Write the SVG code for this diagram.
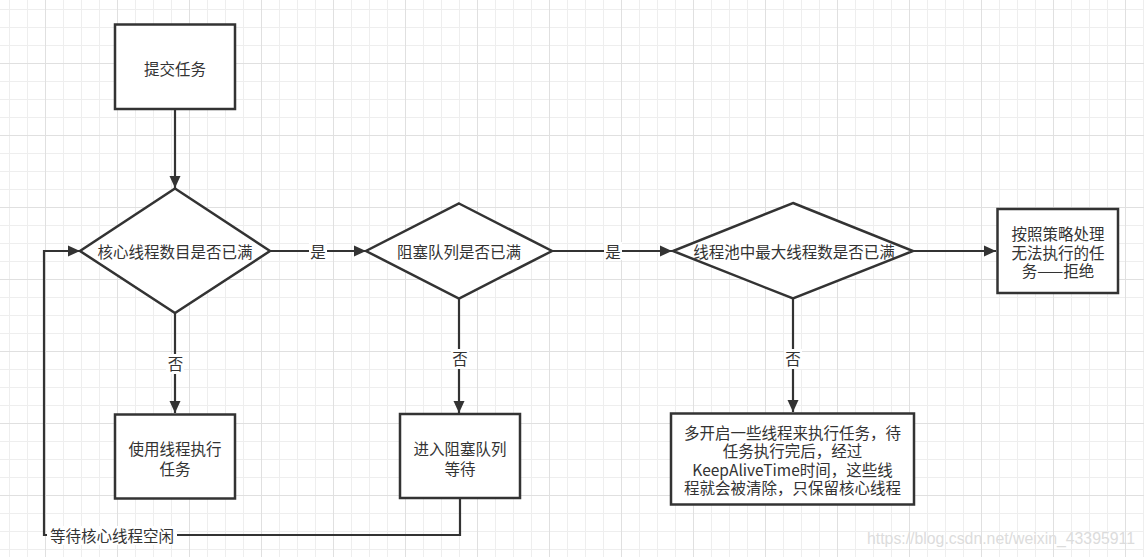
<svg xmlns="http://www.w3.org/2000/svg" width="1144" height="557" viewBox="0 0 1144 557">
<style>
.box{fill:#fff;stroke:#333;stroke-width:2.5}
.t{font-family:"Noto Sans CJK SC","Liberation Sans",sans-serif;font-size:15.5px;fill:#333;text-anchor:middle;dominant-baseline:central}
.e{fill:none;stroke:#333;stroke-width:2.2}
.lb{fill:#fff}
</style>
<defs>
<pattern id="grid" x="45" y="63" width="72" height="72" patternUnits="userSpaceOnUse">
<path d="M18.5,0V72M36.5,0V72M54.5,0V72M0,18.5H72M0,36.5H72M0,54.5H72" stroke="#eeeeee" stroke-width="1" fill="none"/>
<path d="M0.5,0V72M0,0.5H72" stroke="#e0e0e0" stroke-width="1" fill="none"/>
</pattern>
<marker id="ah" markerUnits="userSpaceOnUse" markerWidth="14" markerHeight="12" refX="12" refY="6" orient="auto">
<path d="M0,0.5 L12,6 L0,11.5 Z" fill="#333"/>
</marker>
</defs>
<rect width="1144" height="557" fill="#fff"/>
<rect width="1144" height="557" fill="url(#grid)"/>

<g id="connectors">
<path class="e" d="M175,109V188" marker-end="url(#ah)"/>
<path class="e" d="M270,251H366" marker-end="url(#ah)"/>
<rect class="lb" x="309" y="242" width="18" height="18"/>
<text class="t" x="318" y="251">是</text>
<path class="e" d="M552,251H672" marker-end="url(#ah)"/>
<rect class="lb" x="604" y="242" width="18" height="18"/>
<text class="t" x="613" y="251">是</text>
<path class="e" d="M913,251H996" marker-end="url(#ah)"/>
<path class="e" d="M175,313V413" marker-end="url(#ah)"/>
<rect class="lb" x="166" y="354" width="18" height="20"/>
<text class="t" x="175.5" y="363">否</text>
<path class="e" d="M459,299V413" marker-end="url(#ah)"/>
<rect class="lb" x="451" y="349" width="18" height="20"/>
<text class="t" x="460" y="358">否</text>
<path class="e" d="M793,299V412" marker-end="url(#ah)"/>
<rect class="lb" x="784" y="349" width="18" height="20"/>
<text class="t" x="793" y="358">否</text>
<path class="e" d="M460,498V535H44V251H80" marker-end="url(#ah)"/>
<rect class="lb" x="47" y="526" width="130" height="19"/>
<text class="t" x="112" y="535">等待核心线程空闲</text>
</g>

<g id="submit">
<rect class="box" x="115" y="24.5" width="120" height="84.5"/>
<text class="t" x="175" y="68">提交任务</text>
</g>
<g id="core-full">
<path class="box" d="M175,188.5L270,251L175,313L80,251Z"/>
<text class="t" x="175" y="251">核心线程数目是否已满</text>
</g>
<g id="queue-full">
<path class="box" d="M459,203.5L552,251L459,298.5L366,251Z"/>
<text class="t" x="459" y="251">阻塞队列是否已满</text>
</g>
<g id="max-full">
<path class="box" d="M793,203L913,251L793,298.5L673,251Z"/>
<text class="t" x="794" y="251">线程池中最大线程数是否已满</text>
</g>
<g id="reject">
<rect class="box" x="997.5" y="209" width="120.5" height="84"/>
<text class="t" x="1058" y="233">按照策略处理</text>
<text class="t" x="1058" y="251.5">无法执行的任</text>
<text class="t" x="1058" y="270">务——拒绝</text>
</g>
<g id="use-thread">
<rect class="box" x="115" y="414.5" width="120" height="84"/>
<text class="t" x="175" y="448">使用线程执行</text>
<text class="t" x="175" y="468">任务</text>
</g>
<g id="enqueue">
<rect class="box" x="400" y="414" width="120" height="84"/>
<text class="t" x="460" y="448">进入阻塞队列</text>
<text class="t" x="460" y="468">等待</text>
</g>
<g id="extra-threads">
<rect class="box" x="671" y="413.5" width="243" height="91"/>
<text class="t" x="792.5" y="431.5">多开启一些线程来执行任务，待</text>
<text class="t" x="792.5" y="450">任务执行完后，经过</text>
<text class="t" x="792.5" y="468.5">KeepAliveTime时间，这些线</text>
<text class="t" x="792.5" y="487">程就会被清除，只保留核心线程</text>
</g>
<text x="867" y="544" font-family="Liberation Sans, sans-serif" font-size="17" fill="#dcdcdc" textLength="268" lengthAdjust="spacingAndGlyphs">https://blog.csdn.net/weixin_43395911</text>
</svg>
